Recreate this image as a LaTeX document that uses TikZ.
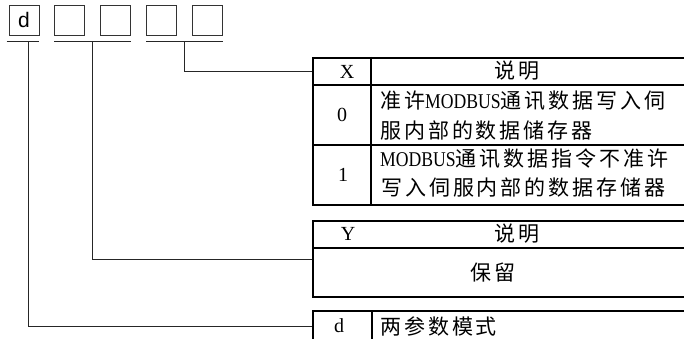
\documentclass[tikz,border=0pt]{standalone}
\usepackage{fontspec}
\usepackage{graphicx}
\setmainfont{Liberation Serif}
\newfontfamily\cjk[LetterSpace=14]{Noto Sans CJK SC}
\newfontfamily\arial{Liberation Sans}
\usetikzlibrary{positioning}
\newcommand\mbus{\scalebox{0.84}[1]{\rmfamily MODBUS}}

\begin{document}
\begin{tikzpicture}[
  x=1pt, y=-1pt,
  node distance=15pt,
  digit/.style={draw=black!80, line width=0.8pt, minimum size=30pt, inner sep=0pt, font=\arial\fontsize{21}{21}\selectfont},
  tab/.style={draw, line width=1.8pt, inner sep=0pt, anchor=north west, minimum width=392pt},
  rule/.style={line width=1.8pt},
  lead/.style={line width=0.8pt, draw=black!85},
  txt/.style={font=\cjk\fontsize{21}{21}\selectfont, inner sep=0pt},
  key/.style={font=\rmfamily\fontsize{20}{20}\selectfont, inner sep=0pt}
  ]
  \useasboundingbox (0,0) rectangle (684,339);
  \clip (0,0) rectangle (684,339);

  \node (bd) [digit] at (24,20) {d};
  \node (b2) [digit,right=of bd] {};
  \node (b3) [digit,right=of b2] {};
  \node (b4) [digit,right=of b3] {};
  \node (b5) [digit,right=of b4] {};

  \draw [lead] ([xshift=-2pt,yshift=-6pt]bd.south west) -- ([yshift=-6pt]bd.south east);
  \draw [lead] ([yshift=-6pt]b2.south west) -- ([yshift=-6pt]b3.south east);
  \draw [lead] ([yshift=-6pt]b4.south west) -- ([yshift=-6pt]b5.south east);
  \coordinate (du) at ([xshift=4pt,yshift=-6pt]bd.south);
  \coordinate (yu) at ([xshift=7.5pt,yshift=-6pt]b2.south east);
  \coordinate (xu) at ([xshift=7.5pt,yshift=-6pt]b4.south east);

  % tables
  \node (xtab) [tab, minimum height=147pt] at (312,57) {};
  \node (ytab) [tab, minimum height=76pt] at (312,220) {};
  \node (dtab) [tab, minimum height=31pt] at (312,310) {};
  \draw [rule] ([yshift=-28pt]xtab.north west) -- ([yshift=-28pt]xtab.north east);
  \draw [rule] ([yshift=-88pt]xtab.north west) -- ([yshift=-88pt]xtab.north east);
  \draw [rule] ([xshift=59pt]xtab.north west) -- ([xshift=59pt]xtab.south west);
  \draw [rule] ([yshift=-28pt]ytab.north west) -- ([yshift=-28pt]ytab.north east);
  \draw [rule] ([xshift=60pt]dtab.north west) -- ([xshift=60pt]dtab.south west);

  \draw [lead] (xu) |- ([yshift=-14pt]xtab.north west);
  \draw [lead] (yu) |- (ytab.west);
  \draw [lead] (du) |- (dtab.west);

  \node (xk) [key] at (347,72) {X};
  \node (xs) [txt] at (517,71) {说明};
  \node (x0) [key] at (342,115) {0};
  \node (x0a) [txt, anchor=west] at (380,101) {准许\mbus 通讯数据写入伺};
  \node (x0b) [txt, anchor=west] at (380,131) {服内部的数据储存器};
  \node (x1) [key] at (343,175) {1};
  \node (x1a) [txt, anchor=west] at (380,159) {\mbus 通讯数据指令不准许};
  \node (x1b) [txt, anchor=west] at (381,188) {写入伺服内部的数据存储器};

  \node (yk) [key] at (348,234) {Y};
  \node (ys) [txt] at (517,234) {说明};
  \node (y0) [txt] at (493,273) {保留};

  \node (dk) [key] at (339,326) {d};
  \node (ds) [txt, anchor=west] at (380,326) {两参数模式};

\end{tikzpicture}
\end{document}
